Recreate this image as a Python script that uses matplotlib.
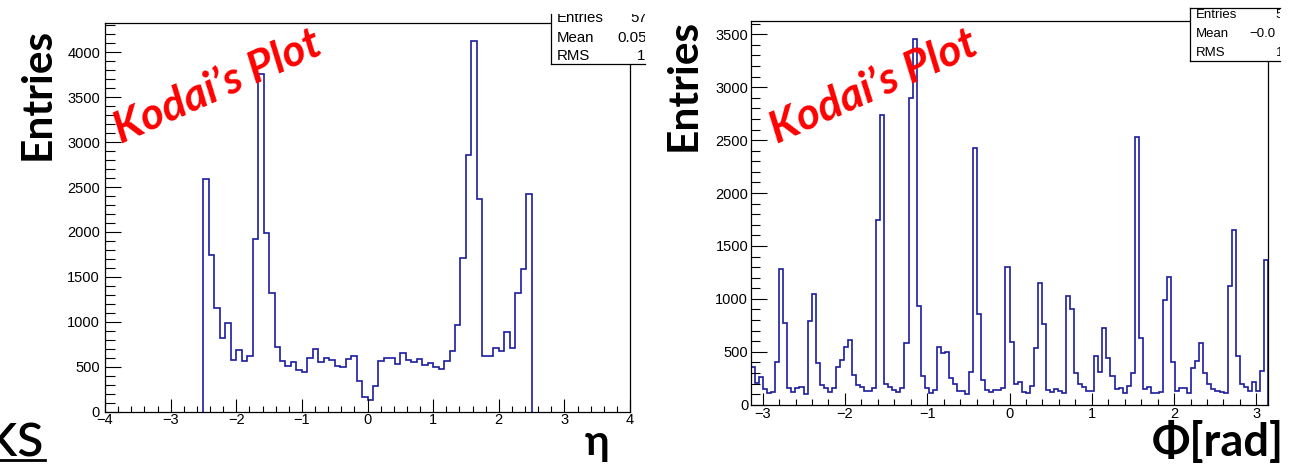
import numpy as np
import matplotlib
matplotlib.use("Agg")
import matplotlib.pyplot as plt
from matplotlib.ticker import MultipleLocator
from matplotlib.lines import Line2D

W, H, DPI = 1291, 466, 100

# Track eta distribution: 60 bins of width 1/12 between -2.5 and 2.5
eta_lo, eta_hi = -2.5, 2.5
eta_counts = [2593, 1741, 1149, 816, 982, 574, 686, 567, 619, 1927,
              3760, 1993, 1316, 716, 567, 511, 556, 463, 437, 593,
              693, 556, 593, 574, 511, 500, 582, 619, 345, 167,
              130, 286, 567, 593, 593, 530, 649, 574, 556, 582,
              519, 544, 500, 474, 567, 674, 960, 1715, 2856, 4122,
              2371, 619, 619, 711, 674, 889, 711, 1316, 1589, 2426]

# Track phi distribution: 128 bins over [-pi, pi]
phi_counts = [358, 202, 264, 145, 107, 122, 405, 1287, 768, 154,
              122, 154, 164, 98, 792, 1044, 390, 186, 154, 122,
              154, 358, 422, 541, 610, 280, 186, 164, 132, 132,
              154, 1749, 2742, 195, 164, 139, 117, 154, 579, 2900,
              3456, 934, 270, 161, 107, 139, 541, 490, 500, 248,
              195, 132, 132, 98, 306, 2428, 856, 232, 139, 117,
              139, 139, 154, 1305, 594, 195, 217, 123, 107, 179,
              532, 1151, 761, 139, 123, 145, 133, 107, 1028, 900,
              296, 195, 164, 133, 133, 459, 311, 721, 443, 274,
              145, 155, 107, 176, 296, 2528, 626, 145, 164, 113,
              107, 123, 988, 1208, 400, 133, 160, 155, 107, 343,
              415, 579, 296, 195, 145, 133, 123, 107, 1123, 1648,
              462, 195, 170, 133, 217, 133, 318, 1372]

eta_xticks = [-4, -3, -2, -1, 0, 1, 2, 3, 4]
phi_xticks = [-3, -2, -1, 0, 1, 2, 3]

eta_stats = [("Entries", "57", 22.0), ("Mean", "0.05", 41.7), ("RMS", "1", 60.0)]
phi_stats = [("Entries", "5", 18.3), ("Mean", "\u22120.0", 37.3), ("RMS", "1", 56.0)]

HIST_COLOR = "#1c1ca0"
TICK_FONT = "Liberation Sans"
TITLE_FONT = ["Lato", "Noto Sans", "DejaVu Sans"]

fig = plt.figure(figsize=(W / DPI, H / DPI), dpi=DPI)
fig.patch.set_facecolor("white")


def rect(x0, y0, x1, y1):
    """Pixel box (top-left origin) -> figure fraction rect."""
    return [x0 / W, 1 - y1 / H, (x1 - x0) / W, (y1 - y0) / H]


def fx(x):
    return x / W


def fy(y):
    return 1 - y / H


def style_axes(ax, ylen, xlen, ypad, xpad):
    ax.xaxis.set_major_locator(MultipleLocator(1))
    ax.xaxis.set_minor_locator(MultipleLocator(0.2))
    ax.yaxis.set_major_locator(MultipleLocator(500))
    ax.yaxis.set_minor_locator(MultipleLocator(100))
    ax.tick_params(which="both", direction="in", top=False, right=False,
                   width=0.8, color="black")
    ax.tick_params(axis="y", which="major", length=ylen[0], pad=ypad)
    ax.tick_params(axis="y", which="minor", length=ylen[1])
    ax.tick_params(axis="x", which="major", length=xlen[0], pad=xpad)
    ax.tick_params(axis="x", which="minor", length=xlen[1])
    for lab in ax.get_xticklabels() + ax.get_yticklabels():
        lab.set_fontfamily(TICK_FONT)
        lab.set_fontsize(10.5)
    for sp in ax.spines.values():
        sp.set_linewidth(0.9)
        sp.set_color("black")


# ---- eta histogram ----
ax1 = fig.add_axes(rect(105, 22.7, 630, 411.7))
eta_edges = np.linspace(eta_lo, eta_hi, len(eta_counts) + 1)
ax1.stairs(eta_counts, eta_edges, baseline=0, color=HIST_COLOR, linewidth=1.2)
ax1.set_xlim(-4, 4)
ax1.set_ylim(0, 1.05 * max(eta_counts))
ax1.set_xticks(eta_xticks)
style_axes(ax1, (11.3, 7.2), (9.4, 4.3), 3.6, 1.0)

# ---- phi histogram ----
ax2 = fig.add_axes(rect(751, 20.7, 1268, 404.7))
phi_edges = np.linspace(-np.pi, np.pi, len(phi_counts) + 1)
ax2.stairs(phi_counts, phi_edges, baseline=0, color=HIST_COLOR, linewidth=1.2)
ax2.set_xlim(-np.pi, np.pi)
ax2.set_ylim(0, 1.05 * max(phi_counts))
ax2.set_xticks(phi_xticks)
style_axes(ax2, (11.3, 6.5), (8.4, 4.3), 2.0, 2.0)


# ---- statistics boxes ----
def stats_box(x0, y0, x1, y1, rows, size, val_x, top_line):
    sax = fig.add_axes(rect(x0, y0, x1, y1))
    sax.set_xlim(x0, x1)
    sax.set_ylim(y1, y0)
    sax.set_xticks([])
    sax.set_yticks([])
    sax.patch.set_facecolor("white")
    sax.spines["right"].set_visible(False)
    sax.spines["top"].set_visible(top_line)
    for sp in sax.spines.values():
        sp.set_linewidth(0.9)
    for label, val, yb in rows:
        sax.text(x0 + 6, yb, label, ha="left", va="baseline", fontsize=size,
                 family=TICK_FONT, clip_on=True)
        sax.text(val_x[label], yb, val, ha="left", va="baseline",
                 fontsize=size, family=TICK_FONT, clip_on=True)


stats_box(551, 14, 645, 64, eta_stats, 10.8,
          {"Entries": 630, "Mean": 617, "RMS": 637}, False)
stats_box(1190, 8, 1280, 61, phi_stats, 9.5,
          {"Entries": 1275, "Mean": 1249, "RMS": 1276}, True)

# ---- axis titles ----
fig.text(fx(38), fy(94), "Entries", rotation=90, ha="center", va="center",
         fontsize=30.5, fontweight="bold", family=TITLE_FONT)
fig.text(fx(684), fy(85), "Entries", rotation=90, ha="center", va="center",
         fontsize=30.5, fontweight="bold", family=TITLE_FONT)
fig.text(fx(597), fy(455), "\u03b7", ha="center", va="baseline",
         fontsize=30, fontweight="bold", family=TITLE_FONT)
fig.text(fx(1284), fy(456), "\u03a6[rad]", ha="right", va="baseline",
         fontsize=32.5, fontweight="bold", family=TITLE_FONT)

# ---- watermark labels ----
for cx, cy in [(218, 87), (874, 87)]:
    fig.text(fx(cx), fy(cy), "Kodai\u2019s Plot", rotation=24,
             rotation_mode="anchor", ha="center", va="center",
             fontsize=32, fontweight="bold", fontstyle="italic",
             color="#ff0000", family=TITLE_FONT)

# ---- slide text fragment at the lower left ----
fig.text(fx(45), fy(455), "ks", ha="right", va="baseline", fontsize=45,
         family=TITLE_FONT)
fig.add_artist(Line2D([fx(0), fx(45)], [fy(460), fy(460)],
                      transform=fig.transFigure, color="black", linewidth=2.0))

fig.savefig("out.png", dpi=DPI, facecolor="white")
